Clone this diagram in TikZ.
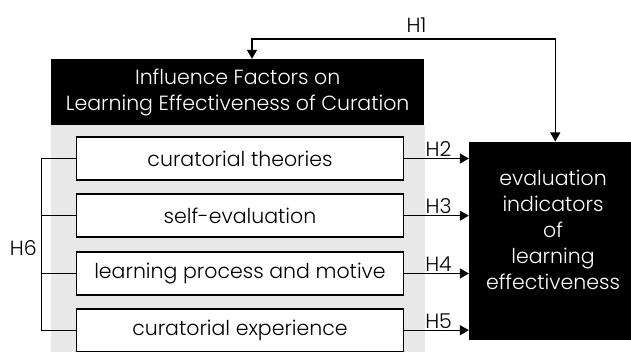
\documentclass[tikz,border=0pt]{standalone}
\usepackage{fontspec}
\setmainfont{Poppins Light}
\usetikzlibrary{
	positioning,
	arrows.meta
}

\tikzset{
	factor/.style={draw,fill=white,line width=1.6pt,minimum width=327pt,minimum height=43pt,inner sep=0pt},
	blackbox/.style={fill=black,text=white,align=center,inner sep=0pt},
	hyp/.style={-{Triangle[length=9pt,width=10pt]},line width=1.4pt},
	hypboth/.style={{Triangle[length=9pt,width=10pt]}-{Triangle[length=9pt,width=10pt]},line width=1.4pt}
}

\begin{document}
\begin{tikzpicture}[x=1pt,y=-1pt,font=\fontsize{20.5}{26}\selectfont]
		\useasboundingbox (0,0) rectangle (631,352);
		\fill[black!9] (51,125) rectangle (424.5,352);

		\draw
			node[blackbox,minimum width=373.5pt,minimum height=66pt] (head) at (237.7,92)
				{Influence Factors on\\Learning Effectiveness of Curation}

			node[factor] (theory)     at (240,158.5) {curatorial theories}
			node[factor] (selfeval)   at (240,215.7) {self-evaluation}
			node[factor] (process)    at (240,273.5) {learning process and motive}
			node[factor] (experience) at (240,330.2) {curatorial experience}

			node[blackbox,minimum width=162pt,minimum height=198.3pt] (result) at (550,240.8) {}
			node[text=white,align=center] (restext) at (553,230)
				{evaluation\\indicators\\of\\learning\\effectiveness}

			(theory.east)     edge[hyp] node[above=-2pt,xshift=2pt]{H2} (theory.east -| result.west)
			(selfeval.east)   edge[hyp] node[above=-2pt,xshift=2pt]{H3} (selfeval.east -| result.west)
			(process.east)    edge[hyp] node[above=-2pt,xshift=2pt]{H4} (process.east -| result.west)
			(experience.east) edge[hyp] node[above=-2pt,xshift=2pt]{H5} (experience.east -| result.west)
		;

		% H1: feedback between the two black boxes
		\draw[hypboth] ([xshift=5.3pt]result.north) -- ++(0,-102.4) -| ([xshift=14.3pt]head.north);
		\node (h1) at (416.5,25) {H1};

		% H6: bracket over the four factors
		\draw[line width=1.4pt] (theory.west) -- ++(-34,0) |- (experience.west);
		\draw[line width=1.4pt] (selfeval.west) -- ++(-34,0);
		\draw[line width=1.4pt] (process.west) -- ++(-34,0);
		\node (h6) at (23.3,248) {H6};
	\end{tikzpicture}
\end{document}
